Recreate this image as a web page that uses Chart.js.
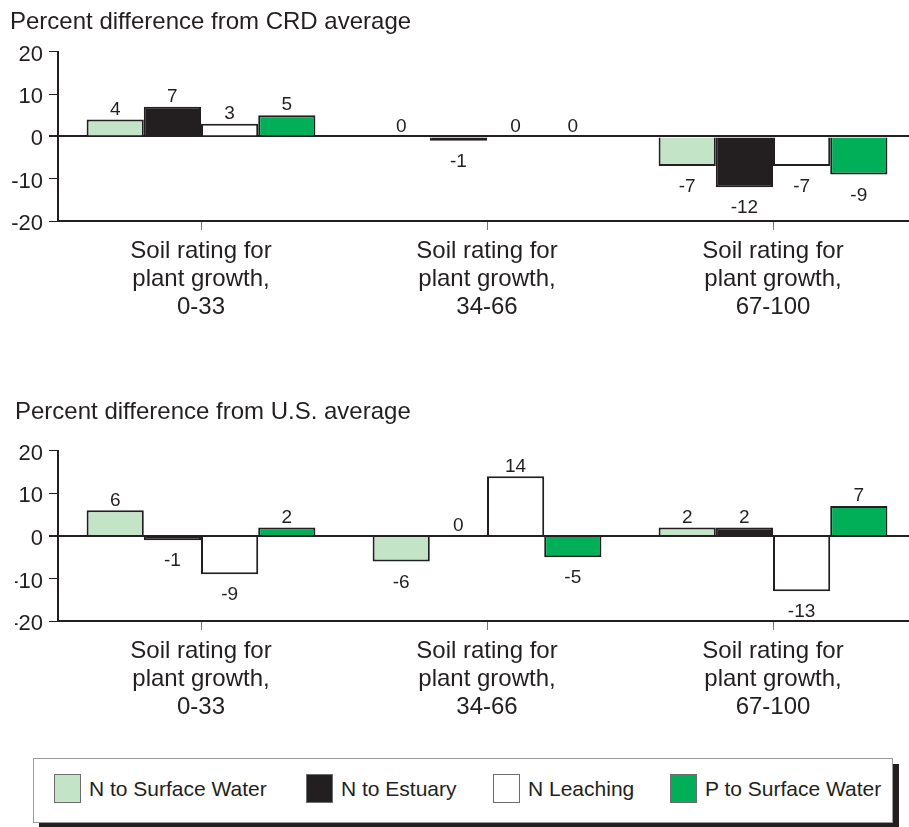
<!DOCTYPE html>
<html>
<head>
<meta charset="utf-8">
<script src="https://cdn.jsdelivr.net/npm/chart.js@4.4.1/dist/chart.umd.min.js"></script>
<style>
  body { margin: 0; background: #fff; overflow: hidden; width: 909px; height: 827px; position: relative;
         font-family: 'Liberation Sans', Arial, Helvetica, sans-serif; color: #231f20; }
  #wrap1 { position: absolute; left: 0; top: 0; }
  #wrap2 { position: absolute; left: 0; top: 390px; }
  #legend { position: absolute; left: 33px; top: 758px; width: 858px; height: 63px;
            border: 1px solid #9a9a9a; box-shadow: 6px 6px 0 #231f20; background: #fff; }
  .item { position: absolute; top: 15px; height: 29px; display: flex; align-items: center;
          font-size: 21px; white-space: nowrap; }
  .swatch { width: 25px; height: 27px; border: 1px solid #6d6d6d; margin-right: 8px; }
</style>
</head>
<body>
<div id="wrap1"><canvas id="chartCrd" width="920" height="321"></canvas></div>
<div id="wrap2"><canvas id="chartUs" width="920" height="331"></canvas></div>
<div id="legend"></div>

<script>
// categories and series
const categories = [
  ['Soil rating for', 'plant growth,', '0-33'],
  ['Soil rating for', 'plant growth,', '34-66'],
  ['Soil rating for', 'plant growth,', '67-100']
];
const seriesNames = ['N to Surface Water', 'N to Estuary', 'N Leaching', 'P to Surface Water'];

// percent difference from CRD average
const crdNSurface = [4, 0, -7];
const crdNEstuary = [7, -1, -12];
const crdNLeaching = [3, 0, -7];
const crdPSurface = [5, 0, -9];

// percent difference from U.S. average
const usNSurface = [6, -6, 2];
const usNEstuary = [-1, 0, 2];
const usNLeaching = [-9, 14, -13];
const usPSurface = [2, -5, 7];

const yTicks = [-20, -10, 0, 10, 20];

// styles
const seriesColors = ['#c4e4c8', '#231f20', '#ffffff', '#00af58'];
const ink = '#231f20';
const fontFamily = "'Liberation Sans', Arial, Helvetica, sans-serif";
const legendLeft = [20, 272, 459, 636];

const valueLabels = {
  id: 'valueLabels',
  afterDatasetsDraw(chart) {
    const ctx = chart.ctx;
    ctx.save();
    ctx.font = '19px ' + fontFamily;
    ctx.fillStyle = ink;
    ctx.textAlign = 'center';
    ctx.textBaseline = 'middle';
    chart.data.datasets.forEach((ds, i) => {
      chart.getDatasetMeta(i).data.forEach((bar, j) => {
        const v = ds.data[j];
        const y = v >= 0 ? bar.y - 10 : bar.y + 21;
        ctx.fillText(String(v), bar.x, y);
      });
    });
    ctx.restore();
  }
};

function makeChart(id, titleText, series, titleLeft, titleGap) {
  return new Chart(document.getElementById(id), {
    type: 'bar',
    data: {
      labels: categories,
      datasets: series.map((vals, i) => ({
        label: seriesNames[i],
        data: vals,
        backgroundColor: seriesColors[i],
        borderColor: ink,
        borderWidth: 2,
        categoryPercentage: 0.8,
        barPercentage: 1.0
      }))
    },
    options: {
      responsive: false,
      animation: false,
      layout: { padding: { left: titleLeft, right: 4, top: 0, bottom: 0 } },
      plugins: {
        legend: { display: false },
        tooltip: { enabled: false },
        title: {
          display: true,
          text: titleText,
          align: 'start',
          color: ink,
          font: { family: fontFamily, size: 24, weight: 'normal', lineHeight: 1.2 },
          padding: { top: 8, bottom: titleGap }
        }
      },
      scales: {
        x: {
          afterFit: s => { s.height = 100; },
          grid: { display: true, drawOnChartArea: false, drawTicks: true, tickLength: 9,
                  tickColor: '#777', offset: false },
          border: { display: true, color: ink, width: 2 },
          ticks: { color: ink, padding: 8, font: { family: fontFamily, size: 24, lineHeight: 1.15 },
                   maxRotation: 0, autoSkip: false }
        },
        y: {
          min: -20, max: 20,
          afterFit: s => { s.width = 58 - titleLeft; },
          afterBuildTicks: s => { s.ticks = yTicks.map(v => ({ value: v })); },
          grid: {
            drawOnChartArea: true,
            drawTicks: true,
            tickLength: 9,
            tickColor: ink,
            color: c => (c.tick && c.tick.value === 0 ? ink : 'rgba(0,0,0,0)'),
            lineWidth: c => (c.tick && c.tick.value === 0 ? 2 : 1)
          },
          border: { display: true, color: ink, width: 2 },
          ticks: { color: ink, padding: 6, labelOffset: 3, font: { family: fontFamily, size: 22 } }
        }
      }
    },
    plugins: [valueLabels]
  });
}

makeChart('chartCrd', 'Percent difference from CRD average',
  [crdNSurface, crdNEstuary, crdNLeaching, crdPSurface], 10, 15);
makeChart('chartUs', 'Percent difference from U.S. average',
  [usNSurface, usNEstuary, usNLeaching, usPSurface], 15, 24);

// shared legend
const legendBox = document.getElementById('legend');
seriesNames.forEach((name, i) => {
  const item = document.createElement('div');
  item.className = 'item';
  item.style.left = legendLeft[i] + 'px';
  const sw = document.createElement('div');
  sw.className = 'swatch';
  sw.style.background = seriesColors[i];
  const txt = document.createElement('span');
  txt.textContent = name;
  item.appendChild(sw);
  item.appendChild(txt);
  legendBox.appendChild(item);
});
</script>
</body>
</html>
